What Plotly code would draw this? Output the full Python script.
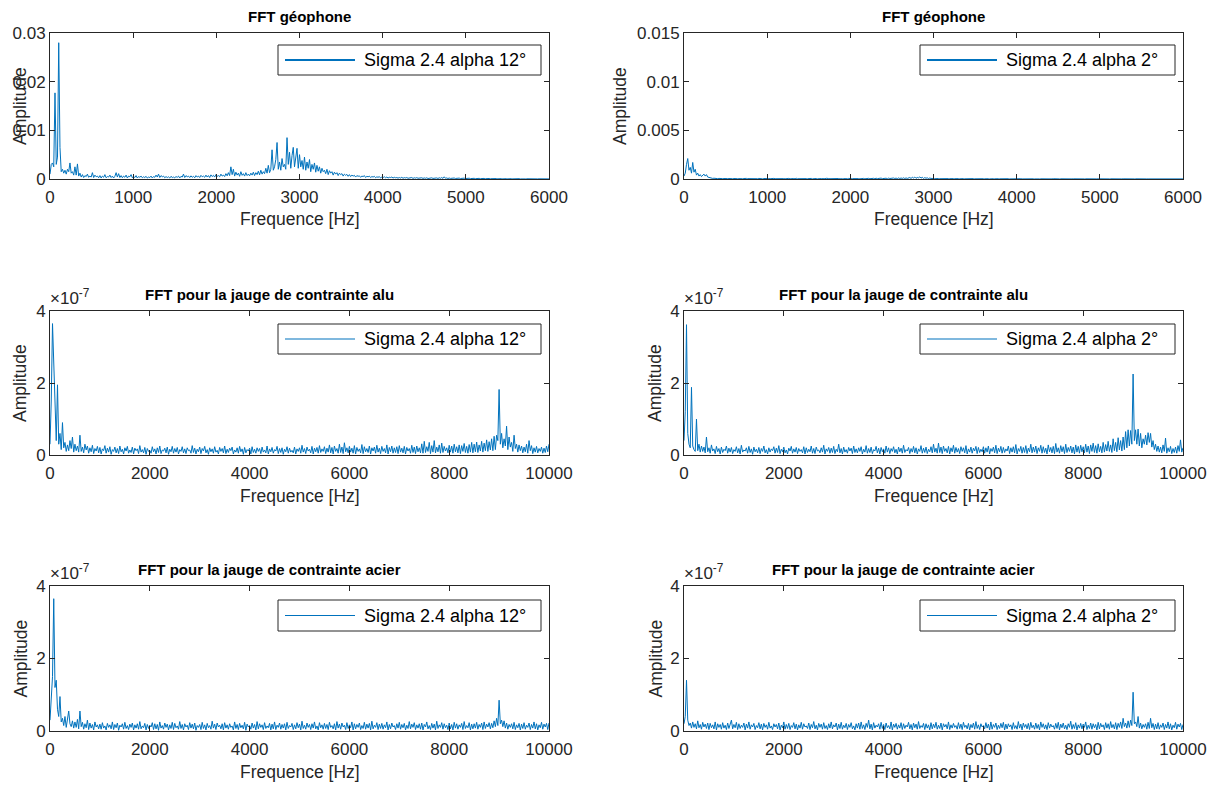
import numpy as np
import plotly.graph_objects as go

W, H = 1221, 786

# ---------------- DATA ----------------
# Geophone FFT amplitudes, integer units of 1e-5, frequency step 15 Hz (0..6000 Hz)
geo12_e5 = [
    100, 300, 330, 250, 1770, 300, 450, 2800, 650, 150, 200, 120, 180, 100, 200, 150, 330, 120, 150, 80,
    250, 80, 310, 60, 120, 40, 90, 30, 70, 50, 100, 35, 60, 40, 130, 30, 80, 45, 60, 25,
    70, 20, 60, 35, 90, 25, 50, 40, 80, 30, 60, 20, 55, 130, 40, 110, 30, 70, 25, 60,
    35, 80, 20, 60, 45, 90, 25, 55, 30, 70, 20, 50, 35, 60, 25, 45, 30, 55, 20, 40,
    30, 60, 20, 50, 35, 80, 40, 100, 30, 70, 45, 60, 25, 50, 30, 45, 20, 55, 30, 40,
    25, 50, 35, 60, 20, 55, 40, 100, 30, 70, 45, 60, 30, 65, 35, 55, 25, 70, 40, 60,
    30, 75, 45, 60, 35, 80, 40, 70, 30, 85, 50, 75, 40, 90, 55, 70, 45, 100, 60, 80,
    50, 110, 65, 130, 70, 250, 90, 200, 60, 140, 80, 120, 55, 150, 75, 110, 60, 130, 70, 100,
    65, 120, 80, 140, 70, 130, 90, 160, 85, 180, 100, 150, 110, 220, 120, 280, 130, 200, 600, 180,
    250, 400, 750, 200, 350, 180, 420, 250, 300, 200, 850, 300, 550, 220, 480, 650, 250, 400, 630, 220,
    500, 250, 380, 200, 450, 180, 350, 220, 400, 150, 300, 200, 330, 140, 280, 160, 250, 120, 220, 150,
    180, 110, 200, 90, 170, 120, 150, 80, 140, 100, 130, 70, 120, 90, 110, 60, 100, 75, 95, 55,
    90, 50, 80, 60, 75, 40, 70, 55, 65, 35, 60, 50, 70, 30, 55, 45, 60, 30, 50, 40,
    55, 25, 45, 35, 50, 20, 40, 30, 45, 25, 40, 20, 35, 30, 40, 20, 35, 25, 30, 18,
    30, 20, 35, 15, 28, 22, 30, 15, 25, 20, 30, 12, 25, 18, 28, 15, 22, 17, 25, 12,
    22, 15, 25, 10, 20, 16, 24, 12, 20, 14, 22, 10, 25, 15, 30, 12, 45, 15, 22, 10,
    20, 12, 18, 9, 20, 11, 17, 8, 18, 10, 15, 8, 17, 9, 14, 7, 16, 8, 13, 6,
    14, 7, 12, 6, 13, 7, 11, 5, 12, 6, 10, 5, 11, 6, 9, 4, 10, 5, 9, 4,
    9, 4, 8, 3, 9, 4, 7, 3, 8, 4, 7, 3, 7, 3, 6, 3, 7, 2, 6, 3,
    6, 2, 5, 3, 6, 2, 5, 2, 5, 2, 4, 2, 4, 2, 4, 1, 3, 2, 3, 1, 2,
]

geo2_e5 = [
    30, 60, 150, 210, 90, 120, 60, 170, 70, 100, 40, 60, 30, 45, 25, 40, 50, 30, 45, 20,
    15, 10, 12, 6, 8, 5, 7, 4, 6, 3, 6, 4, 5, 3, 6, 4, 5, 2, 5, 3,
    5, 2, 6, 3, 4, 2, 7, 3, 5, 2, 6, 4, 3, 2, 5, 3, 6, 2, 4, 3,
    6, 3, 4, 2, 5, 3, 7, 2, 4, 3, 5, 2, 6, 3, 4, 2, 5, 4, 6, 2,
    4, 2, 5, 3, 6, 2, 4, 3, 5, 2, 7, 3, 4, 2, 6, 3, 5, 2, 4, 3,
    5, 3, 6, 2, 4, 3, 5, 2, 6, 4, 4, 2, 5, 3, 7, 2, 5, 3, 4, 2,
    6, 2, 4, 3, 5, 2, 6, 3, 4, 2, 5, 3, 6, 2, 4, 4, 5, 2, 6, 3,
    4, 2, 5, 3, 6, 2, 5, 3, 7, 3, 6, 4, 7, 3, 8, 4, 7, 3, 9, 4,
    7, 4, 8, 3, 9, 5, 8, 4, 10, 5, 9, 4, 11, 5, 10, 6, 12, 5, 11, 6,
    8, 15, 6, 18, 10, 20, 7, 16, 12, 22, 9, 18, 6, 14, 8, 12, 5, 10, 6, 8,
    5, 3, 6, 2, 5, 3, 4, 2, 5, 3, 6, 2, 4, 3, 5, 2, 4, 3, 5, 2,
    4, 2, 5, 3, 4, 2, 3, 2, 4, 3, 5, 2, 4, 2, 3, 2, 4, 3, 4, 2,
    3, 2, 4, 2, 3, 1, 4, 2, 3, 2, 4, 1, 3, 2, 3, 1, 4, 2, 3, 1,
    3, 1, 2, 1, 3, 2, 3, 1, 2, 1, 3, 1, 2, 1, 3, 2, 2, 1, 3, 1,
    2, 1, 3, 1, 2, 1, 2, 1, 3, 1, 2, 1, 2, 1, 2, 1, 3, 1, 2, 1,
    2, 1, 2, 1, 2, 1, 2, 1, 2, 1, 2, 1, 2, 1, 2, 1, 2, 1, 2, 1,
    2, 1, 2, 1, 2, 1, 2, 1, 2, 1, 2, 1, 2, 1, 2, 1, 2, 1, 2, 1,
    2, 1, 2, 1, 2, 1, 2, 1, 2, 1, 2, 1, 2, 1, 2, 1, 2, 1, 2, 1,
    1, 1, 2, 1, 1, 1, 2, 1, 1, 1, 2, 1, 1, 1, 2, 1, 1, 1, 2, 1,
    1, 1, 2, 1, 1, 1, 1, 1, 2, 1, 1, 1, 1, 1, 2, 1, 1, 1, 1, 1, 1,
]

# Strain gauge FFT amplitudes, integer units of 1e-9 (0.01 x 1e-7), frequency step 25 Hz (0..10000 Hz)
alu12_e9 = [
    30, 150, 365, 255, 100, 40, 195, 30, 60, 15, 90, 20, 35, 10, 28, 12, 40, 18, 50, 8,
    30, 12, 25, 8, 55, 10, 22, 6, 30, 14, 25, 5, 20, 9, 27, 4, 18, 11, 24, 6,
    21, 3, 17, 12, 26, 5, 19, 8, 23, 2, 15, 10, 22, 6, 18, 4, 25, 9, 16, 3,
    20, 11, 24, 5, 14, 7, 22, 3, 19, 12, 17, 4, 26, 8, 15, 6, 21, 2, 18, 10,
    13, 5, 23, 9, 17, 3, 20, 7, 25, 4, 14, 11, 19, 6, 22, 2, 16, 9, 24, 5,
    18, 8, 21, 3, 15, 10, 23, 6, 17, 4, 20, 12, 14, 5, 26, 7, 19, 3, 16, 9,
    22, 4, 18, 11, 24, 6, 15, 2, 20, 9, 17, 5, 23, 8, 13, 3, 21, 10, 18, 6,
    25, 4, 16, 7, 19, 12, 22, 3, 14, 8, 20, 5, 24, 9, 17, 2, 21, 6, 15, 11,
    19, 3, 23, 7, 16, 5, 20, 10, 18, 4, 22, 8, 14, 6, 25, 3, 17, 9, 21, 5,
    15, 11, 24, 4, 18, 7, 20, 2, 16, 9, 23, 5, 19, 8, 13, 6, 22, 3, 17, 10,
    20, 5, 27, 8, 18, 4, 22, 11, 16, 6, 24, 3, 19, 9, 21, 5, 26, 7, 17, 10,
    23, 4, 19, 8, 28, 6, 21, 3, 25, 10, 18, 5, 30, 7, 22, 4, 34, 9, 20, 6,
    24, 8, 19, 5, 26, 3, 21, 10, 17, 6, 29, 4, 23, 9, 18, 7, 25, 3, 20, 11,
    22, 5, 27, 8, 19, 4, 24, 10, 18, 6, 28, 3, 21, 9, 25, 5, 20, 7, 23, 4,
    26, 8, 19, 6, 24, 3, 21, 11, 18, 5, 27, 7, 22, 4, 25, 9, 20, 6, 31, 5,
    38, 7, 23, 10, 35, 4, 26, 8, 40, 6, 22, 9, 28, 5, 33, 7, 24, 11, 20, 6,
    27, 8, 25, 5, 30, 9, 23, 6, 28, 4, 26, 10, 32, 7, 24, 5, 29, 8, 35, 6,
    30, 9, 36, 7, 28, 11, 38, 8, 33, 12, 42, 10, 37, 14, 45, 12, 52, 15, 55, 40,
    182, 30, 60, 20, 45, 25, 80, 15, 50, 22, 35, 10, 55, 18, 30, 8, 28, 12, 25, 6,
    22, 9, 30, 5, 40, 12, 26, 4, 20, 8, 24, 6, 18, 10, 22, 5, 19, 7, 25, 9, 30,
]

alu2_e9 = [
    40, 120, 362, 60, 30, 20, 188, 25, 15, 10, 100, 12, 30, 8, 25, 10, 22, 6, 50, 9,
    20, 5, 28, 11, 17, 4, 24, 9, 18, 3, 22, 7, 16, 12, 25, 5, 19, 8, 21, 4,
    15, 10, 23, 6, 18, 3, 27, 8, 14, 11, 20, 5, 24, 7, 17, 2, 22, 9, 16, 6,
    21, 4, 18, 10, 25, 6, 15, 3, 20, 8, 17, 12, 23, 5, 19, 7, 26, 4, 16, 9,
    22, 6, 14, 3, 19, 11, 24, 5, 17, 8, 21, 4, 18, 10, 15, 6, 23, 3, 20, 7,
    16, 9, 25, 5, 18, 4, 22, 11, 14, 6, 20, 8, 27, 3, 17, 10, 21, 5, 19, 7,
    24, 4, 16, 9, 30, 6, 18, 3, 22, 8, 15, 5, 21, 11, 19, 4, 25, 7, 17, 6,
    20, 10, 23, 3, 16, 8, 26, 5, 18, 7, 22, 4, 15, 11, 24, 6, 19, 3, 21, 9,
    17, 5, 25, 8, 20, 4, 18, 10, 23, 6, 16, 3, 22, 9, 19, 5, 27, 7, 15, 11,
    21, 4, 18, 8, 24, 6, 20, 3, 17, 10, 26, 5, 19, 7, 22, 4, 16, 9, 23, 6,
    30, 8, 19, 5, 33, 7, 22, 4, 25, 10, 18, 6, 24, 3, 20, 9, 27, 5, 21, 8,
    18, 4, 23, 10, 20, 6, 26, 3, 17, 8, 22, 5, 19, 11, 24, 4, 21, 7, 16, 9,
    23, 5, 20, 8, 25, 3, 18, 10, 22, 6, 27, 4, 19, 9, 24, 5, 21, 7, 17, 11,
    25, 4, 20, 8, 23, 6, 29, 3, 18, 10, 24, 5, 21, 7, 26, 4, 19, 9, 30, 6,
    22, 8, 25, 4, 20, 10, 27, 5, 23, 7, 19, 3, 28, 9, 21, 6, 24, 4, 32, 8,
    20, 5, 26, 9, 23, 4, 30, 7, 21, 10, 25, 6, 22, 3, 28, 8, 24, 5, 27, 9,
    23, 6, 30, 8, 25, 4, 28, 10, 33, 7, 26, 5, 31, 9, 24, 6, 35, 8, 29, 11,
    38, 10, 28, 7, 45, 12, 35, 9, 48, 14, 40, 11, 50, 15, 65, 20, 70, 25, 68, 30,
    225, 40, 70, 30, 72, 25, 60, 20, 45, 30, 55, 28, 62, 35, 60, 22, 40, 15, 30, 10,
    25, 8, 22, 6, 28, 10, 47, 5, 20, 9, 24, 4, 18, 7, 22, 5, 26, 10, 42, 8, 20,
]

acier12_e9 = [
    30, 90, 150, 365, 120, 140, 60, 40, 95, 25, 35, 15, 40, 10, 30, 55, 20, 12, 28, 8,
    25, 10, 32, 6, 55, 12, 24, 5, 20, 9, 30, 4, 22, 8, 18, 3, 25, 11, 17, 6,
    19, 5, 23, 8, 14, 3, 21, 10, 17, 6, 25, 4, 18, 9, 22, 2, 16, 11, 20, 5,
    24, 7, 15, 4, 19, 10, 22, 3, 17, 8, 20, 5, 26, 6, 14, 9, 21, 3, 18, 7,
    16, 11, 23, 4, 20, 6, 18, 2, 25, 8, 15, 5, 22, 10, 19, 3, 17, 7, 24, 4,
    21, 9, 14, 5, 26, 7, 18, 3, 20, 11, 16, 4, 23, 8, 19, 6, 22, 2, 15, 10,
    18, 4, 24, 7, 17, 3, 21, 9, 15, 5, 27, 8, 19, 4, 22, 11, 16, 6, 20, 3,
    23, 8, 17, 5, 20, 10, 14, 3, 25, 7, 18, 4, 21, 9, 16, 6, 24, 2, 19, 11,
    15, 5, 22, 8, 18, 3, 26, 6, 20, 10, 17, 4, 23, 7, 14, 9, 21, 3, 19, 6,
    25, 4, 16, 10, 22, 5, 18, 8, 20, 3, 24, 7, 15, 11, 21, 4, 17, 6, 23, 9,
    19, 3, 27, 7, 16, 5, 22, 10, 18, 4, 20, 8, 25, 6, 14, 3, 23, 9, 17, 5,
    21, 7, 18, 4, 24, 10, 15, 6, 20, 3, 26, 8, 19, 5, 22, 11, 16, 4, 23, 7,
    17, 9, 25, 3, 20, 6, 18, 10, 22, 4, 15, 7, 24, 5, 19, 8, 21, 3, 27, 6,
    16, 10, 23, 4, 19, 7, 21, 5, 17, 9, 25, 3, 18, 6, 22, 11, 15, 4, 20, 8,
    24, 5, 18, 9, 21, 3, 16, 7, 26, 6, 19, 10, 23, 4, 17, 8, 20, 5, 22, 3,
    18, 11, 25, 6, 15, 4, 21, 8, 19, 3, 27, 7, 17, 10, 23, 5, 20, 9, 16, 4,
    22, 6, 18, 3, 24, 8, 20, 5, 17, 10, 21, 4, 26, 7, 15, 9, 23, 3, 19, 6,
    20, 8, 24, 5, 18, 10, 22, 4, 25, 7, 19, 11, 23, 6, 21, 9, 28, 12, 35, 15,
    85, 20, 30, 12, 28, 8, 22, 5, 18, 10, 20, 6, 24, 4, 17, 9, 21, 3, 19, 7,
    23, 5, 16, 10, 22, 4, 18, 8, 25, 6, 20, 3, 17, 9, 24, 5, 19, 11, 21, 4, 22,
]

acier2_e9 = [
    20, 40, 140, 30, 15, 22, 8, 25, 10, 20, 6, 28, 9, 18, 5, 24, 11, 19, 7, 22,
    4, 21, 9, 17, 6, 25, 3, 20, 10, 18, 5, 23, 8, 16, 4, 22, 7, 19, 30, 6,
    18, 9, 24, 4, 20, 7, 16, 10, 22, 3, 19, 8, 25, 5, 17, 11, 21, 4, 15, 9,
    23, 6, 19, 3, 21, 10, 17, 5, 24, 8, 14, 4, 20, 11, 18, 6, 22, 3, 16, 9,
    25, 5, 18, 7, 21, 4, 15, 10, 23, 6, 19, 3, 17, 8, 24, 5, 20, 11, 14, 7,
    22, 4, 18, 9, 26, 6, 16, 3, 21, 10, 19, 5, 23, 7, 15, 4, 20, 8, 25, 6,
    17, 11, 22, 3, 19, 7, 24, 5, 16, 9, 21, 4, 18, 10, 23, 6, 14, 3, 20, 8,
    22, 5, 25, 7, 17, 4, 21, 10, 30, 6, 19, 3, 23, 8, 16, 11, 20, 5, 24, 7,
    18, 4, 22, 9, 15, 6, 25, 3, 19, 10, 21, 5, 17, 8, 23, 4, 20, 7, 16, 11,
    24, 6, 18, 3, 22, 9, 19, 5, 26, 7, 15, 10, 21, 4, 20, 8, 17, 3, 23, 6,
    19, 9, 24, 5, 16, 7, 22, 3, 20, 11, 18, 6, 25, 4, 17, 8, 21, 10, 15, 5,
    23, 7, 19, 4, 24, 10, 16, 6, 21, 3, 18, 9, 22, 5, 26, 7, 17, 4, 20, 11,
    15, 6, 23, 8, 19, 3, 25, 5, 18, 10, 22, 4, 16, 7, 21, 9, 24, 3, 19, 6,
    20, 11, 17, 4, 23, 7, 15, 5, 26, 8, 19, 3, 22, 10, 18, 6, 21, 4, 24, 9,
    16, 5, 22, 7, 18, 3, 25, 10, 20, 6, 17, 4, 23, 8, 19, 11, 15, 5, 21, 7,
    24, 3, 19, 9, 22, 6, 16, 4, 20, 10, 27, 5, 18, 7, 23, 3, 17, 8, 21, 6,
    19, 10, 25, 4, 16, 7, 22, 5, 20, 9, 18, 3, 24, 6, 21, 11, 17, 4, 23, 8,
    20, 5, 26, 9, 18, 6, 23, 4, 21, 10, 25, 7, 35, 12, 22, 8, 28, 10, 30, 15,
    107, 20, 25, 12, 40, 8, 22, 6, 18, 10, 20, 5, 24, 7, 35, 9, 21, 4, 19, 6,
    23, 5, 17, 10, 22, 4, 18, 8, 25, 6, 20, 3, 16, 9, 24, 5, 19, 11, 21, 4, 18,
]

titles = ["FFT géophone", "FFT géophone",
          "FFT pour la jauge de contrainte alu", "FFT pour la jauge de contrainte alu",
          "FFT pour la jauge de contrainte acier", "FFT pour la jauge de contrainte acier"]
legend_labels = ["Sigma 2.4 alpha 12°", "Sigma 2.4 alpha 2°"] * 3
x_label = "Frequence [Hz]"
y_label = "Amplitude"
geo_xticks = [0, 1000, 2000, 3000, 4000, 5000, 6000]
gauge_xticks = [0, 2000, 4000, 6000, 8000, 10000]
geo12_yticks = [0, 0.01, 0.02, 0.03]
geo12_yticktext = ["0", "0.01", "0.02", "0.03"]
geo2_yticks = [0, 0.005, 0.01, 0.015]
geo2_yticktext = ["0", "0.005", "0.01", "0.015"]
gauge_yticks = [0, 2, 4]          # axis shown in units of 1e-7
gauge_yticktext = ["0", "2", "4"]

# ---------------- FIGURE ----------------
def px(x):
    return x / W

def py(y):
    return 1 - y / H

COL_PX = [(50, 549), (684, 1183)]
ROW_PX = [(33, 179), (311, 455), (586, 731)]
XLABEL_Y = [219, 496, 772]
TITLE_SHIFT = [0, -30, -30]       # titles of the gauge rows sit left of centre (exponent label)
LEG_X = [(278, 541), (920, 1175)]
LEG_Y = [(45, 75), (324, 354), (600, 631)]

AX_COLOR = "#262626"
LINE_COLOR = "#0072BD"
FONT = "Liberation Sans, Arial, Helvetica, sans-serif"

series = [
    (np.linspace(0, 6000, len(geo12_e5)), np.array(geo12_e5) * 1e-5,
     [0, 6000], geo_xticks, [0, 0.03], geo12_yticks, geo12_yticktext, False),
    (np.linspace(0, 6000, len(geo2_e5)), np.array(geo2_e5) * 1e-5,
     [0, 6000], geo_xticks, [0, 0.015], geo2_yticks, geo2_yticktext, False),
    (np.linspace(0, 10000, len(alu12_e9)), np.array(alu12_e9) * 1e-2,
     [0, 10000], gauge_xticks, [0, 4], gauge_yticks, gauge_yticktext, True),
    (np.linspace(0, 10000, len(alu2_e9)), np.array(alu2_e9) * 1e-2,
     [0, 10000], gauge_xticks, [0, 4], gauge_yticks, gauge_yticktext, True),
    (np.linspace(0, 10000, len(acier12_e9)), np.array(acier12_e9) * 1e-2,
     [0, 10000], gauge_xticks, [0, 4], gauge_yticks, gauge_yticktext, True),
    (np.linspace(0, 10000, len(acier2_e9)), np.array(acier2_e9) * 1e-2,
     [0, 10000], gauge_xticks, [0, 4], gauge_yticks, gauge_yticktext, True),
]

fig = go.Figure()
annotations = []
shapes = []
layout_axes = {}

for k, (fx, fy, xr, xt, yr, yt, ytt, has_exp) in enumerate(series):
    row, col = k // 2, k % 2
    n = "" if k == 0 else str(k + 1)
    x0p, x1p = COL_PX[col]
    y0p, y1p = ROW_PX[row]
    fig.add_trace(go.Scatter(
        x=fx, y=fy, mode="lines", xaxis="x" + n, yaxis="y" + n,
        line=dict(color=LINE_COLOR, width=1), showlegend=False,
        hoverinfo="x+y"))
    common = dict(showline=True, linecolor=AX_COLOR, linewidth=1, mirror="allticks",
                  ticks="inside", ticklen=5, tickcolor=AX_COLOR, tickwidth=1,
                  showgrid=False, zeroline=False, automargin=False,
                  tickfont=dict(family=FONT, size=17, color=AX_COLOR))
    layout_axes["xaxis" + n] = dict(common, domain=[px(x0p), px(x1p)], range=xr,
                                    tickvals=xt, ticktext=[str(v) for v in xt],
                                    anchor="y" + n, ticklabelstandoff=3)
    layout_axes["yaxis" + n] = dict(common, domain=[py(y1p), py(y0p)], range=yr,
                                    tickvals=yt, ticktext=ytt, anchor="x" + n)
    cx = (x0p + x1p) / 2
    # subplot title
    annotations.append(dict(text="<b>" + titles[k] + "</b>", x=px(cx + TITLE_SHIFT[row]), y=py(y0p - 6),
                            xref="paper", yref="paper", xanchor="center", yanchor="bottom",
                            showarrow=False, font=dict(family=FONT, size=15, color="#000000")))
    # x-axis label
    annotations.append(dict(text=x_label, x=px(cx), y=py(XLABEL_Y[row]), xref="paper", yref="paper",
                            xanchor="center", yanchor="middle", showarrow=False,
                            font=dict(family=FONT, size=17.5, color=AX_COLOR)))
    # y-axis label
    ylab_x = 20 if col == 0 else (620 if row == 0 else 655)
    annotations.append(dict(text=y_label, x=px(ylab_x), y=py((y0p + y1p) / 2),
                            xref="paper", yref="paper", xanchor="center", yanchor="middle",
                            textangle=-90, showarrow=False,
                            font=dict(family=FONT, size=17.5, color=AX_COLOR)))
    if has_exp:
        annotations.append(dict(text="×10<sup>-7</sup>", x=px(x0p - 2), y=py(y0p - 1),
                                xref="paper", yref="paper", xanchor="left", yanchor="bottom",
                                showarrow=False,
                                font=dict(family=FONT, size=17, color=AX_COLOR)))
    # legend box (drawn like the MATLAB legend)
    lx0, lx1 = LEG_X[col]
    ly0, ly1 = LEG_Y[row]
    ly_mid = (ly0 + ly1) / 2
    shapes.append(dict(type="rect", xref="paper", yref="paper",
                       x0=px(lx0), x1=px(lx1), y0=py(ly1), y1=py(ly0),
                       line=dict(color=AX_COLOR, width=1), fillcolor="white", layer="above"))
    shapes.append(dict(type="line", xref="paper", yref="paper",
                       x0=px(lx0 + 7), x1=px(lx0 + 77), y0=py(ly_mid), y1=py(ly_mid),
                       line=dict(color=LINE_COLOR, width=2 if row == 0 else 1.2), layer="above"))
    annotations.append(dict(text=legend_labels[k], x=px(lx0 + 84), y=py(ly_mid),
                            xref="paper", yref="paper", xanchor="left", yanchor="middle",
                            showarrow=False, font=dict(family=FONT, size=18, color="#000000")))

fig.update_layout(
    template="none",
    width=W, height=H, margin=dict(l=0, r=0, t=0, b=0, autoexpand=False),
    paper_bgcolor="white", plot_bgcolor="white",
    annotations=annotations, shapes=shapes, showlegend=False,
    **layout_axes)

fig.write_html("out.html")
